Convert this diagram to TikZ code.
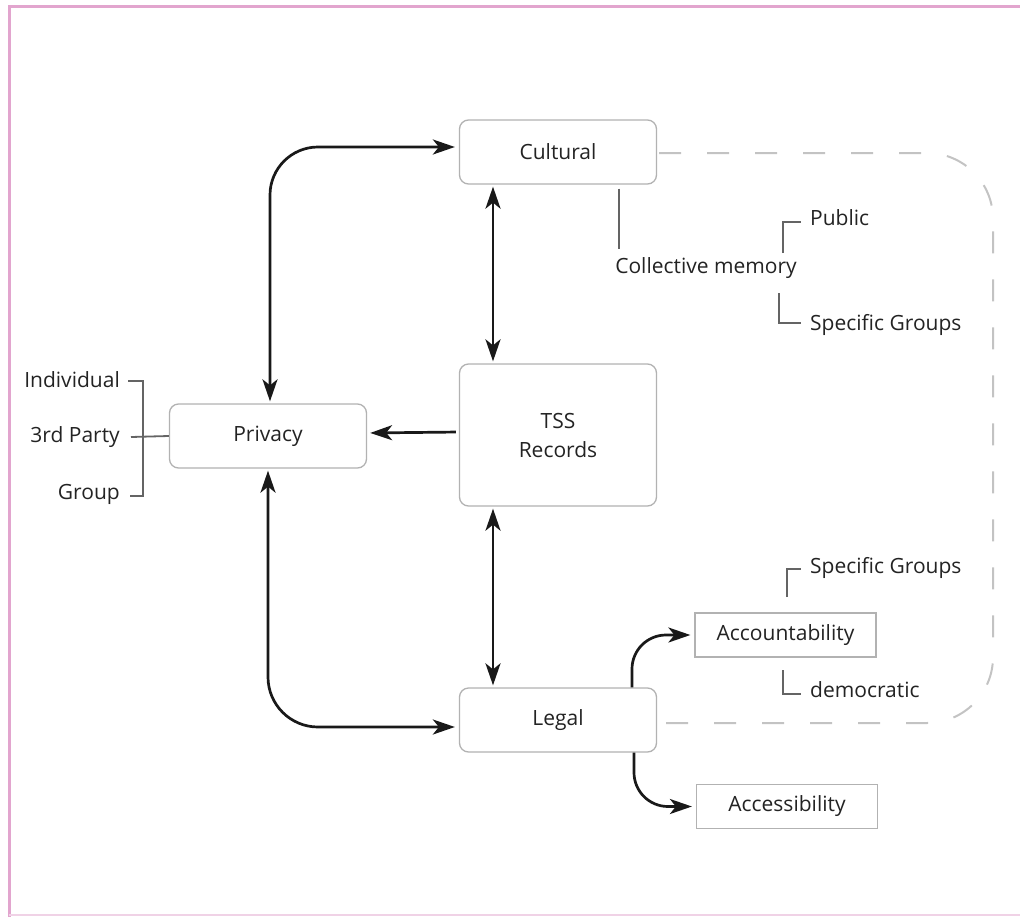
\documentclass[tikz,border=0pt]{standalone}
\usepackage{fontspec}
\setmainfont{Open Sans}
\usetikzlibrary{arrows.meta}
\definecolor{framepink}{RGB}{226,165,206}
\definecolor{boxgray}{RGB}{178,178,178}
\definecolor{brkgray}{RGB}{100,100,100}
\definecolor{dashgray}{RGB}{195,195,195}
\definecolor{txt}{RGB}{35,35,35}
\definecolor{arrblack}{RGB}{25,25,25}
\begin{document}
\begin{tikzpicture}[x=1pt,y=-1pt,
  >={Stealth[length=22pt,width=15pt,inset=6pt]},
  fnt/.style={font=\fontsize{21}{29}\selectfont},
  rbox/.style={fnt, draw=boxgray, line width=1.3pt, rounded corners=9pt, fill=white, text=txt,
    minimum width=197pt, minimum height=64pt, inner sep=0pt, align=center},
  sbox/.style={fnt, draw=boxgray, line width=1.2pt, fill=white, text=txt,
    minimum width=181pt, minimum height=44pt, inner sep=0pt},
  lbl/.style={fnt, text=txt, inner sep=0pt},
  arr/.style={draw=arrblack, line width=2.7pt},
  brk/.style={draw=brkgray, line width=2.7pt},
  dsh/.style={draw=dashgray, line width=2pt, dash pattern=on 22pt off 26pt},
  frame/.style={draw=framepink, line width=3pt}
]
\useasboundingbox (0,0) rectangle (1020,916);
% frame
\draw[frame] (9,918) -- (9,6.5) -- (1022,6.5);
\draw[draw=framepink!50, line width=2pt] (9,914.5) -- (1022,914.5);

% boxes
\node[rbox] (cult) at (558,152) {Cultural};
\node[rbox, minimum height=142pt] (tss) at (558,435) {TSS\\Records};
\node[rbox] (priv) at (268,436) {Privacy};
\node[rbox] (legal) at (558,720) {Legal};
\node[sbox] (acct) at (785.5,635) {Accountability};
\node[sbox] (accs) at (787,806.5) {Accessibility};

% labels
\node[lbl] (coll) at (706,268) {Collective memory};
\node[lbl, anchor=west] (pub) at (810,218) {Public};
\node[lbl, anchor=west] (spg1) at (810,325) {Specific Groups};
\node[lbl, anchor=west] (spg2) at (810,568) {Specific Groups};
\node[lbl, anchor=west] (demo) at (810,690) {democratic};
\node[lbl, anchor=east] (indiv) at (120,380) {Individual};
\node[lbl, anchor=east] (third) at (120,437) {3rd Party};
\node[lbl, anchor=east] (grp) at (120,494) {Group};

% dashed outline
\draw[dsh, rounded corners=66pt] ([xshift=2pt,yshift=-1pt]cult.east) -| (993,440) |- ([xshift=2pt,yshift=-3pt]legal.east);

% arrows
\draw[arr, <->, rounded corners=48pt, shorten <=2pt, shorten >=4pt]
  ([xshift=2pt]priv.north) |- ([yshift=5pt]cult.west);
\draw[arr, <->, rounded corners=50pt, shorten <=2pt, shorten >=4pt]
  (priv.south) |- ([yshift=-7pt]legal.west);
\draw[arr, <->, shorten <=2pt, shorten >=2pt]
  ([xshift=-65pt]cult.south) -- ([xshift=-65pt]tss.north);
\draw[arr, <->, shorten <=2pt, shorten >=2pt]
  ([xshift=-65pt]tss.south) -- ([xshift=-65pt]legal.north);
\draw[arr, ->, shorten <=3pt, shorten >=3pt]
  ([yshift=3pt]tss.west) -- ([yshift=3pt]priv.east);
\draw[arr, ->, rounded corners=34pt, shorten >=4pt]
  ([xshift=74pt]legal.north) |- (acct.west);
\draw[arr, ->, rounded corners=34pt, shorten >=4pt]
  ([xshift=76pt]legal.south) |- (accs.west);

% brackets
\coordinate (cmtop) at (619,249);
\draw[brk] ([xshift=61pt,yshift=-4pt]cult.south) -- (cmtop);
\coordinate (pb1) at (783,253);
\coordinate (pb2) at (801,222);
\draw[brk] (pb1) |- (pb2);
\coordinate (sg1) at (779,293);
\coordinate (sg2) at (801,323);
\draw[brk] (sg1) |- (sg2);
\coordinate (sa1) at (787,597);
\coordinate (sa2) at (801,569);
\draw[brk] (sa1) |- (sa2);
\coordinate (dm1) at (783,670);
\coordinate (dm2) at (801,694);
\draw[brk] (dm1) |- (dm2);
% left bracket
\draw[brk] (128,381) -- (143,381) -- (143,496) -- (130,496);
\draw[brk, line width=1.8pt] (131,437) -- (priv.west);
\end{tikzpicture}
\end{document}
